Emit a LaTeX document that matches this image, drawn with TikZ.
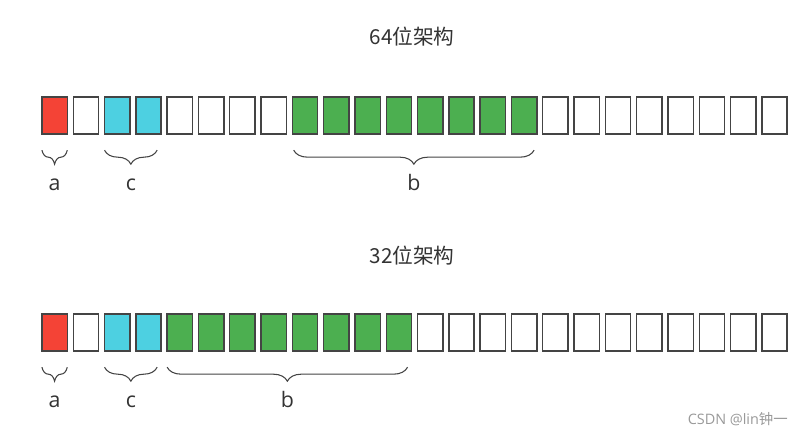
\documentclass[tikz,border=0pt]{standalone}
\usepackage{fontspec}
\setmainfont{Open Sans}
\newfontfamily\cjk{Noto Sans CJK SC}
\usetikzlibrary{decorations.pathreplacing}
\definecolor{cred}{HTML}{F44336}
\definecolor{ccyan}{HTML}{4DD0E1}
\definecolor{cgreen}{HTML}{4CAF50}
\definecolor{edge}{HTML}{444444}
\definecolor{txt}{HTML}{333333}
\definecolor{wm}{HTML}{999999}
\begin{document}
\begin{tikzpicture}[x=0.75pt,y=-0.75pt,
  bit/.style={draw=edge, line width=1.1pt, minimum width=19pt, minimum height=28pt, inner sep=0pt, outer sep=0pt},
  brc/.style={draw=edge, line width=0.8pt, decorate, decoration={brace, mirror, amplitude=10.5pt}},
  lbl/.style={text=txt, font=\fontsize{16}{19}\selectfont, inner sep=0pt, anchor=base, yshift=-30pt},
  ttl/.style={text=txt, font=\cjk\fontsize{15.5}{18}\selectfont, inner sep=0pt}]
\useasboundingbox (0,0) rectangle (803,436);
\node[ttl] (t64) at (412,37) {64位架构};
\node[ttl] (t32) at (412,256) {32位架构};
\foreach \i in {0,...,23} {
  \def\f{white}
  \ifnum\i=0 \def\f{cred}\fi
  \ifnum\i>1 \ifnum\i<4 \def\f{ccyan}\fi\fi
  \ifnum\i>7 \ifnum\i<16 \def\f{cgreen}\fi\fi
  \node[bit, fill=\f] (t\i) at ({54.6+31.3*\i},115.5) {};
}
\foreach \i in {0,...,23} {
  \def\f{white}
  \ifnum\i=0 \def\f{cred}\fi
  \ifnum\i>1 \ifnum\i<4 \def\f{ccyan}\fi\fi
  \ifnum\i>3 \ifnum\i<12 \def\f{cgreen}\fi\fi
  \node[bit, fill=\f] (b\i) at ({54.6+31.3*\i},332.5) {};
}
% top braces
\draw[brc] ([yshift=-12pt]t0.south west) -- ([yshift=-12pt]t0.south east) node[midway, lbl] {a};
\draw[brc] ([yshift=-12pt]t2.south west) -- ([xshift=-3pt,yshift=-12pt]t3.south east) node[midway, lbl] {c};
\draw[brc] ([xshift=1pt,yshift=-12pt]t8.south west) -- ([xshift=-2pt,yshift=-12pt]t15.south east) node[midway, lbl] {b};
% bottom braces
\draw[brc] ([yshift=-12pt]b0.south west) -- ([yshift=-12pt]b0.south east) node[midway, lbl] {a};
\draw[brc] ([yshift=-12pt]b2.south west) -- ([xshift=-3pt,yshift=-12pt]b3.south east) node[midway, lbl] {c};
\draw[brc] ([yshift=-12pt]b4.south west) -- ([xshift=-3pt,yshift=-12pt]b11.south east) node[midway, lbl] {b};
\node[text=wm, font=\fontsize{10.8}{13}\selectfont, inner sep=0pt, anchor=east] (wmk) at (788,419) {CSDN @lin{\cjk 钟一}};
\end{tikzpicture}
\end{document}
